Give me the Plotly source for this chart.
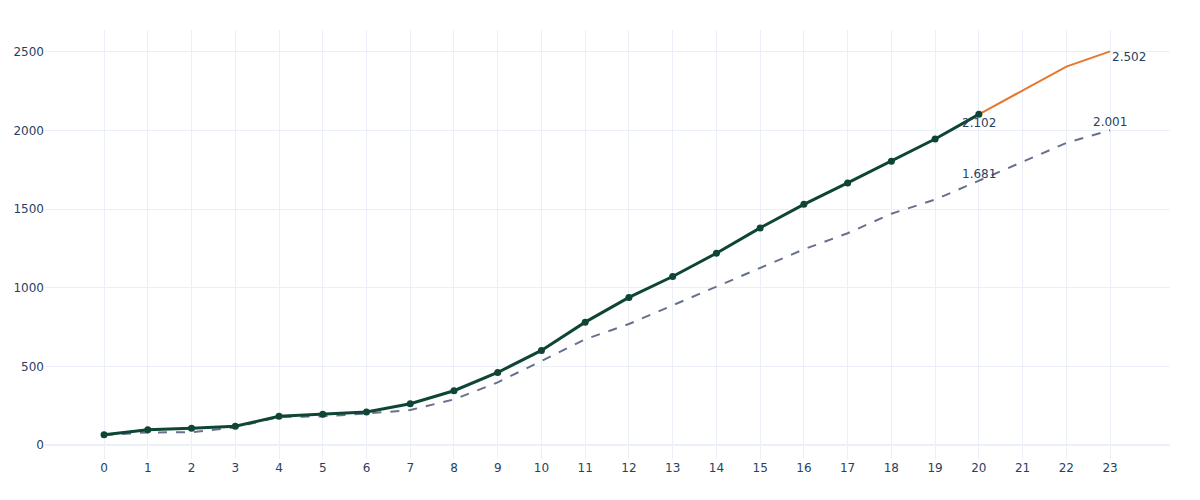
import plotly.graph_objects as go

# actual values, periods 0..20
actual_x = list(range(0, 21))
actual_y = [65, 97, 106, 119, 183, 196, 210, 262, 345, 461, 601, 781, 938, 1071, 1219, 1380, 1530, 1666, 1804, 1945, 2102]

# forecast continuation
forecast_x = [20, 22, 23]
forecast_y = [2102, 2405, 2502]

# reference / plan (dashed)
plan_x = list(range(0, 21)) + [22, 23]
plan_y = [64, 80, 81, 112, 178, 182, 200, 222, 290, 398, 534, 672, 769, 888, 1005, 1128, 1244, 1346, 1470, 1560, 1681, 1920, 2001]

# end labels
label_x = [20, 23, 23, 20]
label_y = [2102, 2502, 2001, 1681]
label_text = ["2.102", "2.502", "2.001", "1.681"]

periods = list(range(0, 24))

fig = go.Figure()
fig.add_trace(go.Scatter(x=plan_x, y=plan_y, mode="lines",
                         line=dict(color="#66718c", width=2, dash="dash"), name="plan"))
fig.add_trace(go.Scatter(x=forecast_x, y=forecast_y, mode="lines",
                         line=dict(color="#e8772e", width=2), name="forecast"))
fig.add_trace(go.Scatter(x=actual_x, y=actual_y, mode="lines+markers",
                         line=dict(color="#0f4535", width=3),
                         marker=dict(size=7, color="#0f4535"), name="actual"))

# label placement: anchor + shift
anchors = ["center", "left", "center", "center"]
shifts = [-9, -6, 8, 7]
for x, y, t, a, s in zip(label_x, label_y, label_text, anchors, shifts):
    fig.add_annotation(x=x, y=y, text=t, showarrow=False, xanchor=a, yshift=s,
                       font=dict(size=12, color="#2a3f5f"))

fig.update_layout(template="plotly_white", showlegend=False,
                  font=dict(family="DejaVu Sans", size=12, color="#2a3f5f"),
                  margin=dict(l=37, r=22, t=22, b=33))
fig.update_xaxes(range=[-1.35, 24.37], tickvals=periods, automargin=False, zeroline=False)
fig.update_yaxes(range=[-89, 2638], dtick=500, automargin=False)

fig.write_html("out.html")
